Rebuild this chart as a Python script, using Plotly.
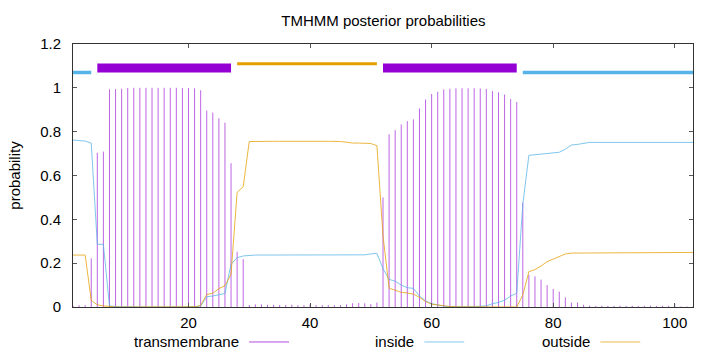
import plotly.graph_objects as go

# ---------------- data ----------------
positions = list(range(1, 104))

transmembrane = [
    0.005, 0.008, 0.008, 0.222, 0.704, 0.709, 0.993, 0.994, 0.996, 0.999,
    1.000, 1.000, 1.000, 1.000, 1.000, 1.000, 1.000, 1.000, 0.999, 0.999,
    0.998, 0.989, 0.896, 0.887, 0.861, 0.841, 0.656, 0.252, 0.218, 0.009,
    0.012, 0.012, 0.010, 0.010, 0.009, 0.009, 0.010, 0.008, 0.008, 0.012,
    0.008, 0.008, 0.008, 0.008, 0.009, 0.012, 0.017, 0.018, 0.017, 0.013,
    0.020, 0.500, 0.788, 0.807, 0.833, 0.848, 0.856, 0.906, 0.947, 0.972,
    0.982, 0.993, 0.996, 0.998, 0.998, 0.998, 0.998, 0.997, 0.995, 0.985,
    0.979, 0.969, 0.949, 0.935, 0.476, 0.147, 0.140, 0.125, 0.100, 0.082,
    0.070, 0.044, 0.020, 0.020, 0.010, 0.006, 0.005, 0.006, 0.005, 0.005,
    0.006, 0.005, 0.006, 0.005, 0.005, 0.006, 0.005, 0.006, 0.005, 0.012,
    0.002, 0.002, 0.002,
]

inside = [
    0.762, 0.760, 0.757, 0.748, 0.286, 0.286, 0.005, 0.002, 0.001, 0.000,
    0.000, 0.000, 0.000, 0.000, 0.000, 0.000, 0.000, 0.000, 0.000, 0.000,
    0.001, 0.004, 0.047, 0.050, 0.055, 0.062, 0.195, 0.225, 0.233, 0.236,
    0.237, 0.237, 0.237, 0.237, 0.237, 0.237, 0.238, 0.238, 0.237, 0.237,
    0.237, 0.237, 0.237, 0.237, 0.237, 0.237, 0.237, 0.237, 0.238, 0.242,
    0.245, 0.175, 0.126, 0.118, 0.100, 0.088, 0.085, 0.050, 0.028, 0.015,
    0.009, 0.004, 0.002, 0.001, 0.001, 0.001, 0.002, 0.003, 0.005, 0.015,
    0.021, 0.031, 0.050, 0.063, 0.469, 0.692, 0.695, 0.698, 0.700, 0.703,
    0.706, 0.720, 0.739, 0.742, 0.747, 0.751, 0.751, 0.751, 0.751, 0.751,
    0.751, 0.751, 0.751, 0.751, 0.751, 0.751, 0.751, 0.751, 0.751, 0.751,
    0.751, 0.751, 0.751,
]

outside = [
    0.237, 0.237, 0.237, 0.030, 0.010, 0.005, 0.002, 0.000, 0.000, 0.000,
    0.000, 0.000, 0.000, 0.000, 0.000, 0.000, 0.000, 0.000, 0.000, 0.000,
    0.001, 0.007, 0.057, 0.063, 0.084, 0.097, 0.149, 0.523, 0.549, 0.755,
    0.756, 0.757, 0.757, 0.756, 0.756, 0.755, 0.755, 0.756, 0.756, 0.757,
    0.757, 0.756, 0.756, 0.756, 0.755, 0.752, 0.748, 0.748, 0.747, 0.746,
    0.736, 0.325, 0.086, 0.075, 0.067, 0.064, 0.059, 0.044, 0.025, 0.013,
    0.009, 0.003, 0.002, 0.001, 0.001, 0.001, 0.000, 0.000, 0.000, 0.000,
    0.000, 0.000, 0.000, 0.000, 0.055, 0.161, 0.171, 0.187, 0.207, 0.219,
    0.230, 0.242, 0.246, 0.246, 0.246, 0.246, 0.246, 0.246, 0.246, 0.246,
    0.246, 0.246, 0.246, 0.246, 0.246, 0.246, 0.246, 0.246, 0.246, 0.246,
    0.247, 0.249, 0.249,
]

# predicted topology (start, end)
inside_segments = [(1, 4), (75, 103)]
outside_segments = [(28, 51)]
tm_segments = [(5, 27), (52, 74)]

x_ticks = [20, 40, 60, 80, 100]
y_ticks = [0, 0.2, 0.4, 0.6, 0.8, 1.0, 1.2]
y_tick_text = ["0", "0.2", "0.4", "0.6", "0.8", "1", "1.2"]

legend_names = ["transmembrane", "inside", "outside"]

# ---------------- style ----------------
C_TM = "#9400D3"
C_IN = "#56B4E9"
C_OUT = "#E69F00"
FONT = "Liberation Sans, Arial, sans-serif"
LEVEL_IN, LEVEL_TM, LEVEL_OUT = 1.07, 1.09, 1.11

fig = go.Figure()

# impulses for transmembrane probability
ix, iy = [], []
for p, v in zip(positions, transmembrane):
    ix += [p, p, None]
    iy += [0, v, None]
fig.add_trace(go.Scatter(x=ix, y=iy, mode="lines",
                         line=dict(color=C_TM, width=1), opacity=0.6,
                         hoverinfo="skip", showlegend=False))

fig.add_trace(go.Scatter(x=positions, y=inside, mode="lines",
                         line=dict(color=C_IN, width=1), opacity=0.75,
                         name="inside", showlegend=False))
fig.add_trace(go.Scatter(x=positions, y=outside, mode="lines",
                         line=dict(color=C_OUT, width=1), opacity=0.75,
                         name="outside", showlegend=False))

# topology bars at the top
for s, e in inside_segments:
    fig.add_trace(go.Scatter(x=[s, e], y=[LEVEL_IN, LEVEL_IN], mode="lines",
                             line=dict(color=C_IN, width=3.5), showlegend=False,
                             hoverinfo="skip"))
for s, e in outside_segments:
    fig.add_trace(go.Scatter(x=[s, e], y=[LEVEL_OUT, LEVEL_OUT], mode="lines",
                             line=dict(color=C_OUT, width=3), showlegend=False,
                             hoverinfo="skip"))
for s, e in tm_segments:
    fig.add_trace(go.Scatter(x=[s, e], y=[LEVEL_TM, LEVEL_TM], mode="lines",
                             line=dict(color=C_TM, width=9), showlegend=False,
                             hoverinfo="skip"))

# manual gnuplot-style legend (text then line sample)
leg_y = -0.133
leg_text_x = [0.2706, 0.5532, 0.8371]
leg_colors = [C_TM, C_IN, C_OUT]
annotations = []
shapes = []
for name, tx, col in zip(legend_names, leg_text_x, leg_colors):
    annotations.append(dict(text=name, x=tx, y=leg_y, xref="paper", yref="paper",
                            xanchor="right", yanchor="middle", showarrow=False,
                            font=dict(family=FONT, size=15, color="black")))
    shapes.append(dict(type="line", xref="paper", yref="paper",
                       x0=tx + 0.0135, x1=tx + 0.0778, y0=leg_y, y1=leg_y,
                       line=dict(color=col, width=1), opacity=0.7))

fig.update_layout(
    width=720, height=352,
    margin=dict(l=73, r=27, t=44, b=45),
    paper_bgcolor="white", plot_bgcolor="white",
    font=dict(family=FONT, size=15, color="black"),
    title=dict(text="TMHMM posterior probabilities", x=0.5325, xanchor="center",
               y=0.94, yanchor="middle", font=dict(family=FONT, size=15)),
    annotations=annotations, shapes=shapes,
    showlegend=False,
)
fig.update_xaxes(range=[1, 103], tickvals=x_ticks, ticks="inside", ticklen=4,
                 tickcolor="#555", showline=True, linecolor="#333", linewidth=1,
                 mirror="ticks", showgrid=False, zeroline=False,
                 ticklabelstandoff=2)
fig.update_yaxes(range=[0, 1.2], tickvals=y_ticks, ticktext=y_tick_text,
                 ticks="inside", ticklen=4, tickcolor="#555", showline=True,
                 linecolor="#333", linewidth=1, mirror="ticks", showgrid=False,
                 zeroline=False, ticklabelstandoff=8,
                 title=dict(text="probability", standoff=15,
                            font=dict(family=FONT, size=15)))

fig.write_html("out.html")
